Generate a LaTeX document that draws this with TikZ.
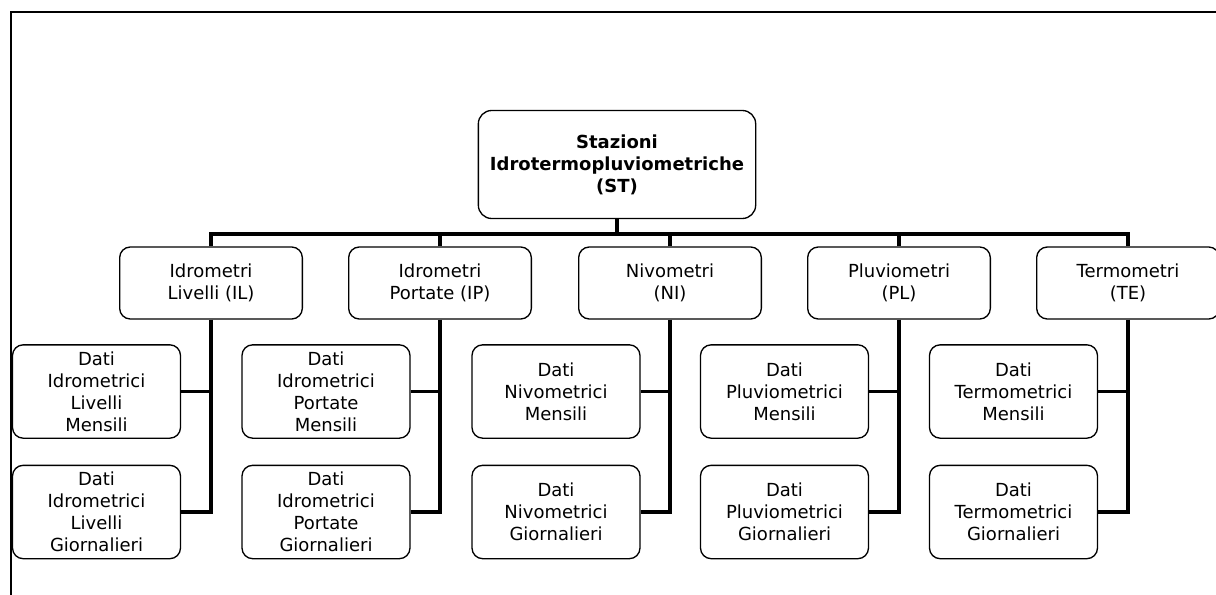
\documentclass[tikz,border=0pt]{standalone}
\usepackage{fontspec}
\setmainfont{DejaVu Sans}

\tikzset{
  station/.style={draw,rounded corners=8pt,line width=1pt,align=center,
    minimum width=137pt,minimum height=54pt,inner sep=2pt,
    font=\fontsize{13.5}{16.5}\selectfont},
  databox/.style={draw,rounded corners=8pt,line width=1pt,align=center,
    minimum width=126pt,minimum height=70pt,inner sep=2pt,
    font=\fontsize{13.5}{16.5}\selectfont},
  link/.style={line width=2.8pt},
}

\begin{document}
\begin{tikzpicture}[x=0.75pt,y=-0.75pt]
  \useasboundingbox (0,0) rectangle (1216,595);
  % frame
  \coordinate (fa) at (1216,12);
  \coordinate (fb) at (11,12);
  \coordinate (fc) at (11,595);
  \draw[line width=1.6pt] (fa) -- (fb) -- (fc);

  \node[draw,rounded corners=10pt,line width=1pt,align=center,
    minimum width=208pt,minimum height=81pt,
    font=\fontsize{13.5}{16.5}\selectfont\bfseries] (st) at (617,164.5)
    {Stazioni\\Idrotermopluviometriche\\(ST)};

  \node[station] (il) at (211,283) {Idrometri\\Livelli (IL)};
  \node[station] (ip) at (440,283) {Idrometri\\Portate (IP)};
  \node[station] (ni) at (670,283) {Nivometri\\(NI)};
  \node[station] (pl) at (899,283) {Pluviometri\\(PL)};
  \node[station] (te) at (1128,283) {Termometri\\(TE)};

  \node[databox] (ilm) at (96.5,391.5) {Dati\\Idrometrici\\Livelli\\Mensili};
  \node[databox] (ilg) at (96.5,512) {Dati\\Idrometrici\\Livelli\\Giornalieri};
  \node[databox] (ipm) at (326,391.5) {Dati\\Idrometrici\\Portate\\Mensili};
  \node[databox] (ipg) at (326,512) {Dati\\Idrometrici\\Portate\\Giornalieri};
  \node[databox] (nim) at (556,391.5) {Dati\\Nivometrici\\Mensili};
  \node[databox] (nig) at (556,512) {Dati\\Nivometrici\\Giornalieri};
  \node[databox] (plm) at (784.5,391.5) {Dati\\Pluviometrici\\Mensili};
  \node[databox] (plg) at (784.5,512) {Dati\\Pluviometrici\\Giornalieri};
  \node[databox] (tem) at (1013.5,391.5) {Dati\\Termometrici\\Mensili};
  \node[databox] (teg) at (1013.5,512) {Dati\\Termometrici\\Giornalieri};

  \coordinate (bus) at (0,234);
  \draw[link] (st.south) -- (st.south |- bus);
  \draw[link] (il.north) -- (il.north |- bus) -- (te.north |- bus) -- (te.north);
  \draw[link] (ip.north) -- (ip.north |- bus);
  \draw[link] (ni.north) -- (ni.north |- bus);
  \draw[link] (pl.north) -- (pl.north |- bus);

  \draw[link] (il.south) |- (ilg.east);
  \draw[link] (ilm.east) -- (ilm.east -| il.south);
  \draw[link] (ip.south) |- (ipg.east);
  \draw[link] (ipm.east) -- (ipm.east -| ip.south);
  \draw[link] (ni.south) |- (nig.east);
  \draw[link] (nim.east) -- (nim.east -| ni.south);
  \draw[link] (pl.south) |- (plg.east);
  \draw[link] (plm.east) -- (plm.east -| pl.south);
  \draw[link] (te.south) |- (teg.east);
  \draw[link] (tem.east) -- (tem.east -| te.south);
\end{tikzpicture}
\end{document}
